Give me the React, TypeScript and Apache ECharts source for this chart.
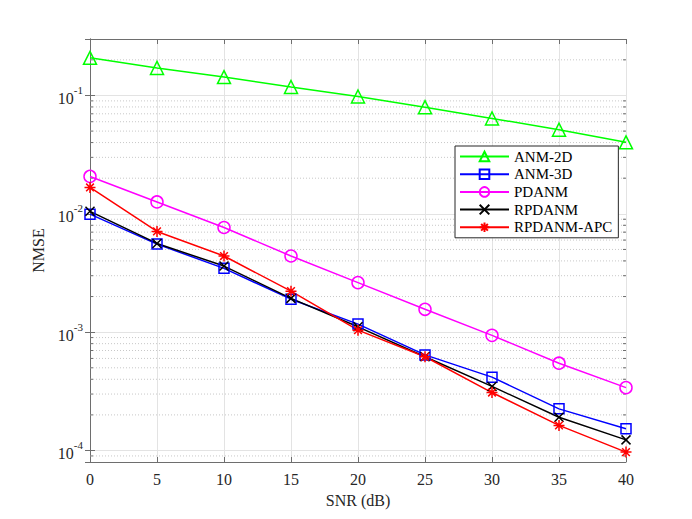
import React, { useEffect, useRef } from "react";
import * as echarts from "echarts";

const snr = [0, 5, 10, 15, 20, 25, 30, 35, 40];
const anm2d = [0.208, 0.171, 0.143, 0.118, 0.098, 0.0796, 0.064, 0.0514, 0.0402];
const anm3d = [0.00993, 0.00555, 0.00346, 0.0019, 0.00117, 0.000643, 0.000417, 0.000225, 0.000153];
const pdanm = [0.0207, 0.0126, 0.00766, 0.0044, 0.00262, 0.00156, 0.00094, 0.000547, 0.00034];
const rpdanm = [0.0105, 0.00562, 0.00362, 0.00193, 0.00111, 0.00062, 0.000348, 0.000191, 0.000123];
const rpdanmApc = [0.0167, 0.0071, 0.0044, 0.00222, 0.00104, 0.00062, 0.000309, 0.000163, 0.000097];

const minorTicks = [
  9e-5,
  2e-4, 3e-4, 4e-4, 5e-4, 6e-4, 7e-4, 8e-4, 9e-4,
  2e-3, 3e-3, 4e-3, 5e-3, 6e-3, 7e-3, 8e-3, 9e-3,
  2e-2, 3e-2, 4e-2, 5e-2, 6e-2, 7e-2, 8e-2, 9e-2,
  2e-1,
];

const FONT = "'Liberation Serif', 'Times New Roman', serif";
const AXIS = "#6e6e6e";
const TXT = "#262626";
const YMIN = 8e-5;
const YMAX = 0.3;

const arrowSym = "path://M0,0L10,10M10,0L0,10";
const starSym = "path://M5,0L5,10M0,5L10,5M1.5,1.5L8.5,8.5M8.5,1.5L1.5,8.5";

function pairs(ys: number[]) {
  return snr.map((x, i) => [x, ys[i]]);
}

function lineSeries(name: string, ys: number[], color: string, symbol: string, size: number) {
  return {
    name,
    type: "line",
    data: pairs(ys),
    xAxisIndex: 0,
    yAxisIndex: 0,
    symbol,
    symbolSize: size,
    showAllSymbol: true,
    z: 5,
    lineStyle: { color, width: 1.5 },
    itemStyle: { color: "rgba(0,0,0,0)", borderColor: color, borderWidth: 1.5 },
    emphasis: { disabled: true },
  };
}

export default function App() {
  const ref = useRef<HTMLDivElement>(null);
  useEffect(() => {
    if (!ref.current) return;
    const chart = echarts.init(ref.current, undefined, { renderer: "svg" });
    const yLabel = (v: number) => {
      const l = Math.log10(v);
      const e = Math.round(l);
      if (Math.abs(l - e) > 1e-6) return "";
      return `{b|10}{s|${e}}`;
    };
    chart.setOption({
      animation: false,
      backgroundColor: "#ffffff",
      grid: { left: 90, right: 66, top: 39, bottom: 57, containLabel: false },
      legend: {
        orient: "vertical",
        left: 455,
        top: 146,
        itemWidth: 49,
        itemHeight: 12,
        itemGap: 2.7,
        padding: [3, 6, 3, 4],
        borderColor: "#262626",
        borderWidth: 1,
        backgroundColor: "#ffffff",
        textStyle: { fontFamily: FONT, fontSize: 15, color: "#000" },
        data: ["ANM-2D", "ANM-3D", "PDANM", "RPDANM", "RPDANM-APC"],
        selectedMode: false,
        z: 10,
      },
      xAxis: [
        {
          type: "value",
          min: 0,
          max: 40,
          interval: 5,
          name: "SNR (dB)",
          nameLocation: "middle",
          nameGap: 30,
          nameTextStyle: { fontFamily: FONT, fontSize: 16, color: TXT },
          axisLine: { show: true, lineStyle: { color: AXIS, width: 1 } },
          axisTick: { show: true, inside: true, length: 5, lineStyle: { color: AXIS } },
          axisLabel: { fontFamily: FONT, fontSize: 16, color: TXT, margin: 9 },
          splitLine: { show: true, lineStyle: { color: "#e3e3e3", width: 1 } },
        },
        {
          type: "value",
          position: "top",
          min: 0,
          max: 40,
          interval: 5,
          axisLine: { show: true, lineStyle: { color: AXIS, width: 1 } },
          axisTick: { show: true, inside: true, length: 5, lineStyle: { color: AXIS } },
          axisLabel: { show: false },
          splitLine: { show: false },
        },
      ],
      yAxis: [
        {
          type: "log",
          logBase: 10,
          min: YMIN,
          max: YMAX,
          name: "NMSE",
          nameLocation: "middle",
          nameGap: 40,
          nameTextStyle: { fontFamily: FONT, fontSize: 16, color: TXT },
          axisLine: { show: true, lineStyle: { color: AXIS, width: 1 } },
          axisTick: { show: true, inside: true, length: 5, lineStyle: { color: AXIS } },
          axisLabel: {
            margin: 7,
            formatter: yLabel,
            rich: {
              b: { fontFamily: FONT, fontSize: 16, color: TXT, lineHeight: 22, verticalAlign: "bottom" },
              s: { fontFamily: FONT, fontSize: 11, color: TXT, lineHeight: 10, verticalAlign: "top" },
            },
          },
          splitLine: { show: true, lineStyle: { color: "#e3e3e3", width: 1 } },
        },
        {
          type: "log",
          logBase: 10,
          position: "right",
          min: YMIN,
          max: YMAX,
          axisLine: { show: true, lineStyle: { color: AXIS, width: 1 } },
          axisTick: { show: true, inside: true, length: 5, lineStyle: { color: AXIS } },
          axisLabel: { show: false },
          splitLine: { show: false },
        },
      ],
      series: [
        {
          type: "custom",
          name: "minor",
          xAxisIndex: 0,
          yAxisIndex: 0,
          z: 1,
          silent: true,
          data: minorTicks.map((v) => [0, v]),
          encode: { x: 0, y: 1 },
          renderItem: (params: any, api: any) => {
            const cs = params.coordSys;
            const y = api.coord([0, api.value(1)])[1];
            const x0 = cs.x;
            const x1 = cs.x + cs.width;
            return {
              type: "group",
              children: [
                {
                  type: "line",
                  shape: { x1: x0, y1: y, x2: x1, y2: y },
                  style: { stroke: "#c8c8c8", lineWidth: 1, lineDash: [1, 2] },
                },
                {
                  type: "line",
                  shape: { x1: x0, y1: y, x2: x0 + 3, y2: y },
                  style: { stroke: AXIS, lineWidth: 1 },
                },
                {
                  type: "line",
                  shape: { x1: x1 - 3, y1: y, x2: x1, y2: y },
                  style: { stroke: AXIS, lineWidth: 1 },
                },
              ],
            };
          },
        },
        lineSeries("ANM-2D", anm2d, "#00ff00", "triangle", 13),
        lineSeries("ANM-3D", anm3d, "#0000ff", "rect", 10),
        lineSeries("PDANM", pdanm, "#ff00ff", "circle", 12),
        lineSeries("RPDANM", rpdanm, "#000000", arrowSym, 9),
        lineSeries("RPDANM-APC", rpdanmApc, "#ff0000", starSym, 11),
      ],
    });
    return () => chart.dispose();
  }, []);
  return (
    <div
      ref={ref}
      style={{ position: "fixed", left: 0, top: 0, width: 692, height: 519, background: "#fff" }}
    />
  );
}
